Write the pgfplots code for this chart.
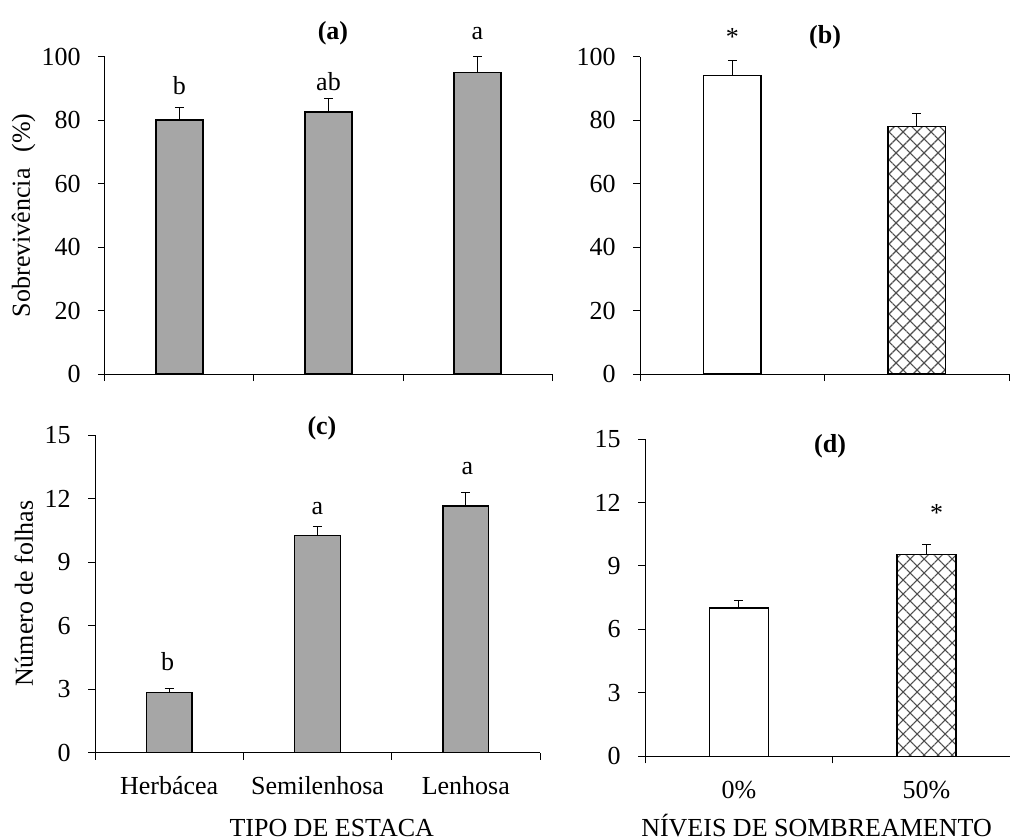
\documentclass[border=0pt]{standalone}
\usepackage{fontspec}
\setmainfont{Liberation Serif}
\usepackage{pgfplots}
\pgfplotsset{compat=1.18}
\usetikzlibrary{patterns.meta}
\definecolor{bargray}{HTML}{A6A6A6}
\definecolor{hatchgray}{HTML}{4D4D4D}
\pgfplotsset{
  panel/.style={
    scale only axis,
    axis x line=bottom, axis y line=left,
    axis line style={-, line width=0.5pt, black},
    ybar, bar shift=0pt,
    ymin=0, clip=false,
    tick align=outside,
    major tick length=0pt, minor tick length=3.5pt,
    every tick/.style={line width=0.5pt, black},
    /pgf/number format/assume math mode=true,
    yticklabel style={anchor=east, xshift=-7.7pt},
    xticklabel style={anchor=base, yshift=-21pt},
  },
  eb/.style={error bars/.cd, y dir=plus, y explicit,
    error bar style={line width=0.5pt, black},
    error mark options={rotate=90, mark size=2.25pt, line width=0.5pt, black}},
  graybar/.style={fill=bargray, draw=black, line width=0.75pt, bar width=#1},
}
\begin{document}
\fontsize{13pt}{15pt}\selectfont
\begin{tikzpicture}
\path[use as bounding box] (0,0) rectangle (505.5pt,-419.5pt);

% (a)
\begin{axis}[panel, at={(52.5pt,-187pt)}, anchor=south west,
  width=223.5pt, height=158.65pt,
  xmin=0, xmax=3, ymax=100,
  xtick={0.5,1.5,2.5}, xticklabels={}, minor xtick={0,1,2,3},
  ytick={0,20,40,60,80,100}, minor ytick={0,20,40,60,80,100},
  ylabel={Sobrevivência\hspace{0.6em}(\%)},
  ylabel style={at={(axis description cs:-0.182,0.5)}, anchor=center}]
\addplot[graybar=23.5pt, eb] coordinates {(0.5,80) +- (0,4.0) (1.5,82.5) +- (0,4.2) (2.5,95) +- (0,5.0)};
\node[font=\bfseries] at (axis cs:1.53,107.5) {(a)};
\node at (axis cs:0.5,90.8) {b};
\node at (axis cs:1.5,92.1) {ab};
\node at (axis cs:2.5,107.2) {a};
\end{axis}

% (b)
\begin{axis}[panel, at={(320pt,-187pt)}, anchor=south west,
  width=184.5pt, height=158.65pt,
  xmin=0, xmax=2, ymax=100,
  xtick={0.5,1.5}, xticklabels={}, minor xtick={0,1,2},
  ytick={0,20,40,60,80,100}, minor ytick={0,20,40,60,80,100}]
\addplot[fill=white, draw=black, line width=0.75pt, bar width=28.8pt, eb] coordinates {(0.5,94) +- (0,4.7)};
\addplot[fill=white, draw=black, line width=0.75pt, bar width=28.8pt,
  postaction={pattern={Hatch[angle=45,distance=4.95pt,line width=0.55pt]}, pattern color=hatchgray}, eb]
  coordinates {(1.5,78) +- (0,4.1)};
\node[font=\bfseries] at (axis cs:1.003,106.2) {(b)};
\node[anchor=base] at (axis cs:0.5,103.4) {*};
\end{axis}

% (c)
\begin{axis}[panel, at={(47.5pt,-376.35pt)}, anchor=south west,
  width=222.5pt, height=158.85pt,
  xmin=0, xmax=3, ymax=15,
  xtick={0.5,1.5,2.5}, xticklabels={Herbácea,Semilenhosa,Lenhosa}, minor xtick={0,1,2,3},
  ytick={0,3,6,9,12,15}, minor ytick={0,3,6,9,12,15},
  ylabel={Número de folhas},
  ylabel style={at={(axis description cs:-0.16,0.5)}, anchor=center},
  xlabel={TIPO DE ESTACA},
  xlabel style={at={(axis description cs:0.532,-0.263)}, anchor=base}]
\addplot[graybar=22.8pt, eb] coordinates {(0.5,2.85) +- (0,0.17) (1.5,10.25) +- (0,0.45) (2.5,11.65) +- (0,0.63)};
\node[font=\bfseries] at (axis cs:1.53,15.33) {(c)};
\node at (axis cs:0.49,4.30) {b};
\node at (axis cs:1.50,11.55) {a};
\node at (axis cs:2.51,13.4) {a};
\end{axis}

% (d)
\begin{axis}[panel, at={(322.5pt,-378.15pt)}, anchor=south west,
  width=182.5pt, height=158.65pt,
  xmin=0, xmax=1.945, ymax=15,
  xtick={0.5,1.5}, xticklabels={0\%,50\%}, minor xtick={0,1},
  ytick={0,3,6,9,12,15}, minor ytick={0,3,6,9,12,15},
  xlabel={NÍVEIS DE SOMBREAMENTO},
  xlabel style={at={(axis description cs:0.47,-0.252)}, anchor=base}]
\addplot[fill=white, draw=black, line width=0.75pt, bar width=29.5pt, eb] coordinates {(0.5,7.0) +- (0,0.38)};
\addplot[fill=white, draw=black, line width=0.75pt, bar width=29.5pt,
  postaction={pattern={Hatch[angle=45,distance=4.95pt,line width=0.55pt]}, pattern color=hatchgray}, eb]
  coordinates {(1.5,9.55) +- (0,0.48)};
\node[font=\bfseries] at (axis cs:0.986,14.67) {(d)};
\node[anchor=base] at (axis cs:1.554,11.08) {*};
\end{axis}
\end{tikzpicture}
\end{document}
